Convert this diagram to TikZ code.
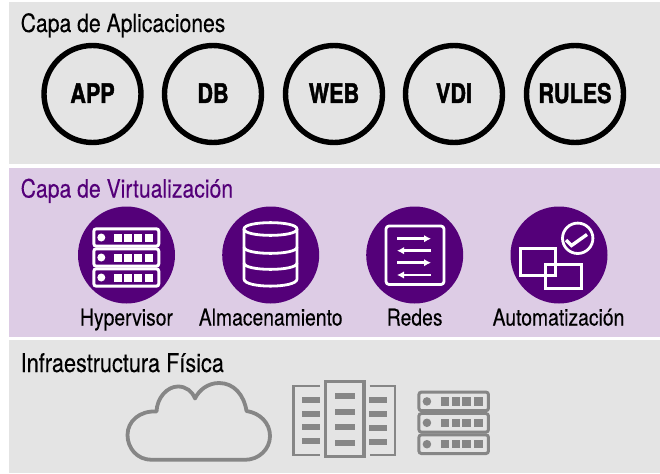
\documentclass[tikz,border=0pt]{standalone}
\usepackage{fontspec}
\usetikzlibrary{arrows.meta}
\setmainfont{TeX Gyre Heros}[FakeStretch=0.84,FakeBold=0.15]
\newfontfamily\heavyfont{TeX Gyre Heros}[BoldFeatures={FakeStretch=0.8,FakeBold=1.5}]
\definecolor{panelgray}{HTML}{E4E4E4}
\definecolor{panelpurple}{HTML}{DDCCE5}
\definecolor{deeppurple}{HTML}{540079}
\definecolor{icongray}{HTML}{868686}
\tikzset{
  panel/.style={fill=#1,draw=none},
  title/.style={anchor=base west,inner sep=0pt,font=\fontsize{25.2}{26}\selectfont},
  caption/.style={anchor=base,inner sep=0pt,font=\fontsize{23}{24}\selectfont},
  apptext/.style={anchor=base,inner sep=0pt,font=\heavyfont\bfseries\fontsize{27}{27}\selectfont},
  ring/.style={circle,draw=black,line width=5.4pt,minimum size=97pt,inner sep=0pt},
  badge/.style={circle,fill=deeppurple,minimum size=97pt,inner sep=0pt},
  wline/.style={draw=white,line width=2.8pt,line join=round},
  gline/.style={draw=icongray,line width=3.8pt,line join=round},
  arrowline/.style={draw=white,line width=2.6pt},
}
% server icon: origin top-left, width 68, height 59, stroke colour #4
\newcommand{\servericon}[4]{%
  \begin{scope}[shift={(#1,#2)},xscale=#3,yscale=#3]
    \foreach \yy in {0,20,40}{
      \draw[draw=#4,line width=3pt,rounded corners=2.5pt] (1.5,\yy+1.3) rectangle (66.5,\yy+18.7);
      \fill[#4] (9,\yy+10) circle (4);
      \foreach \xx in {22,32,42,53}{ \fill[#4] (\xx,\yy+6) rectangle (\xx+8,\yy+14); }
    }
  \end{scope}}
\begin{document}
\begin{tikzpicture}[x=1pt,y=-1pt]
\useasboundingbox (0,0) rectangle (660,473);
\fill[white] (0,0) rectangle (660,473);
\path[panel=panelgray] (9,2) rectangle (660,164);
\path[panel=panelpurple] (9,168) rectangle (660,337);
\path[panel=panelgray] (9,340) rectangle (660,473);

\node[title] (t1) at (20.5,32) {Capa de Aplicaciones};
\node[title,text=deeppurple] (t2) at (20.5,197.5) {Capa de Virtualización};
\node[title,font=\fontsize{25.8}{26}\selectfont] (t3) at (20.5,372) {Infraestructura Física};

\node[ring] (c1) at (92.5,94) {};
\node[ring] (c2) at (213,94) {};
\node[ring] (c3) at (334,94) {};
\node[ring] (c4) at (454,94) {};
\node[ring] (c5) at (575,94) {};
\node[apptext] (a1) at (92.5,103) {APP};
\node[apptext] (a2) at (213,103) {DB};
\node[apptext] (a3) at (334,103) {WEB};
\node[apptext] (a4) at (454,103) {VDI};
\node[apptext] (a5) at (575,103) {RULES};

\node[badge] (b1) at (126.5,255) {};
\node[badge] (b2) at (270.7,255) {};
\node[badge] (b3) at (414.7,255) {};
\node[badge] (b4) at (559,255) {};
\node[caption] (l1) at (126.5,325.5) {Hypervisor};
\node[caption] (l2) at (270.7,325.5) {Almacenamiento};
\node[caption] (l3) at (414.7,325.5) {Redes};
\node[caption] (l4) at (558.5,325.5) {Automatización};

% hypervisor icon
\servericon{92.3}{227.5}{1}{white}

% database icon
\draw[wline] (244,229) .. controls (244,220.5) and (297,220.5) .. (297,229)
  .. controls (297,237.5) and (244,237.5) .. (244,229) -- cycle;
\draw[wline] (244,229) -- (244,279) .. controls (244,288.5) and (297,288.5) .. (297,279) -- (297,229);
\draw[wline] (244,247) .. controls (244,255.5) and (297,255.5) .. (297,247);
\draw[wline] (244,263) .. controls (244,271.5) and (297,271.5) .. (297,263);

% network icon
\draw[wline,rounded corners=3pt] (386,226) rectangle (444,284.5);
\draw[arrowline,-{Latex[length=7pt,width=7.5pt]}] (397,238.7) -- (431,238.7);
\draw[arrowline,-{Latex[length=7pt,width=7.5pt]}] (431,250.7) -- (397,250.7);
\draw[arrowline,-{Latex[length=7pt,width=7.5pt]}] (397,262.7) -- (431,262.7);
\draw[arrowline,-{Latex[length=7pt,width=7.5pt]}] (431,275) -- (397,275);

% automation icon
\draw[wline,line width=3pt,line join=miter] (545.5,264) rectangle (581.5,288);
\draw[wline,line width=3pt,line join=miter] (520.5,248.5) rectangle (555.5,275);
\draw[draw=white,line width=2.8pt] (577.7,238.3) circle (15.2);
\draw[draw=white,line width=3.4pt,line join=miter] (566,240) -- (571.5,245.5) -- (587,234.5);

% cloud
\draw[gline,line cap=round] (151.7,459.8)
  .. controls (137,459.8) and (127.5,448) .. (127.5,435)
  .. controls (127.5,421) and (140,410.5) .. (156.5,411.5)
  .. controls (157,398) and (167,386.5) .. (178,386.5)
  .. controls (186,386.5) and (192,391) .. (195,398.5)
  .. controls (199,390) and (208,383) .. (219,383)
  .. controls (234,383) and (244,395) .. (246.5,411)
  .. controls (260,413) and (270,423) .. (270,436)
  .. controls (270,449) and (259,459.8) .. (245,459.8)
  -- cycle;

% building
\draw[gline,line width=3.4pt,line cap=butt,line join=miter] (325.3,381.7) rectangle (364,456.7);
\draw[gline,line width=2.8pt,line join=miter] (320,386) -- (293.7,386) -- (293.7,455) -- (320,455);
\draw[gline,line width=2.8pt,line join=miter] (369.5,386) -- (395,386) -- (395,455) -- (369.5,455);
\foreach \yy in {400,414,427,441}{ \fill[icongray] (302,\yy-3) rectangle (320,\yy+3); }
\foreach \yy in {396,412,427,443}{ \fill[icongray] (335,\yy-3) rectangle (355,\yy+3); }
\foreach \yy in {400,414,428,442}{ \fill[icongray] (369,\yy-3) rectangle (387,\yy+3); }

% physical server
\servericon{417.3}{390.7}{1.07}{icongray}
\end{tikzpicture}
\end{document}
